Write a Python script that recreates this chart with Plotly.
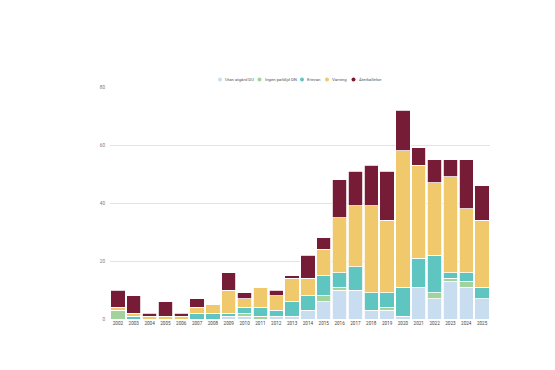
import plotly.graph_objects as go

years = [str(y) for y in range(2002, 2026)]
series_names = ["Utan åtgärd DU", "Ingen påföljd DN", "Erinran", "Varning", "Återkallelse"]
utan_atgard = [0, 0, 0, 0, 0, 0, 0, 1, 1, 0, 1, 1, 3, 6, 10, 10, 3, 3, 1, 11, 7, 13, 11, 7]
ingen_pafoljd = [3, 0, 0, 0, 0, 0, 0, 0, 1, 1, 0, 0, 0, 2, 1, 0, 0, 1, 0, 0, 2, 1, 2, 0]
erinran = [0, 1, 0, 0, 0, 2, 2, 1, 2, 3, 2, 5, 5, 7, 5, 8, 6, 5, 10, 10, 13, 2, 3, 4]
varning = [1, 1, 1, 1, 1, 2, 3, 8, 3, 7, 5, 8, 6, 9, 19, 21, 30, 25, 47, 32, 25, 33, 22, 23]
aterkallelse = [6, 6, 1, 5, 1, 3, 0, 6, 2, 0, 2, 1, 8, 4, 13, 12, 14, 17, 14, 6, 8, 6, 17, 12]
colors = ["#c9ddf0", "#a3d39c", "#5fc5c1", "#f0c96c", "#761c36"]
y_ticks = [0, 20, 40, 60, 80]

values = [utan_atgard, ingen_pafoljd, erinran, varning, aterkallelse]

# page offset (browser default body margin)
OFF = 8
W, H = 555, 370
L, R, T, B = 110 - OFF, W - 490 + OFF, 87 - OFF, H - 319 + OFF
PW, PH = W - L - R, H - T - B

fig = go.Figure()
for name, vals, col in zip(series_names, values, colors):
    fig.add_trace(go.Bar(
        x=years, y=vals, name=name, showlegend=False,
        marker=dict(color=col, line=dict(color="white", width=0.8)),
    ))

# compact legend: dot + label, positioned in screen pixels
legend_dot_px = [220, 259.5, 302, 327, 353.5]
legend_y_px = 79.5
shapes = []
annotations = []
for name, col, xd in zip(series_names, colors, legend_dot_px):
    cx = (xd - OFF - L) / PW
    cy = (H - B - (legend_y_px - OFF)) / PH
    rx, ry = 2.0 / PW, 2.0 / PH
    shapes.append(dict(type="circle", xref="paper", yref="paper",
                       x0=cx - rx, x1=cx + rx, y0=cy - ry, y1=cy + ry,
                       fillcolor=col, line=dict(width=0)))
    annotations.append(dict(text=name, xref="paper", yref="paper",
                            x=cx + 3.0 / PW, y=cy, xanchor="left", yanchor="middle",
                            showarrow=False,
                            font=dict(family="Roboto, sans-serif", size=4.3, color="#555")))

fig.update_layout(
    width=W, height=H,
    barmode="stack", bargap=0.1,
    paper_bgcolor="white", plot_bgcolor="white",
    margin=dict(l=L, r=R, t=T, b=B, autoexpand=False),
    font=dict(family="Roboto, sans-serif", size=5, color="#555"),
    showlegend=False,
    shapes=shapes, annotations=annotations,
    xaxis=dict(showgrid=False, ticks="", tickfont=dict(size=4.6, color="#444"),
               showline=False, tickangle=0, automargin=False),
    yaxis=dict(range=[0, 80], tickvals=y_ticks, showgrid=True, gridcolor="#e3e3e3",
               gridwidth=1, zeroline=False, tickfont=dict(size=4.6, color="#777"),
               automargin=False, ticklabelstandoff=4),
)

fig.write_html("out.html")
